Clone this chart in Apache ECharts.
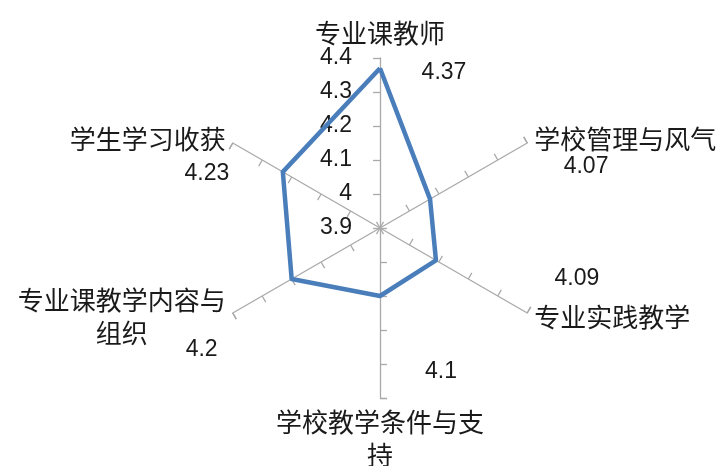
<!DOCTYPE html>
<html><head><meta charset="utf-8">
<script src="https://cdn.jsdelivr.net/npm/echarts@6/dist/echarts.min.js"></script>
<style>html,body{margin:0;padding:0;background:#fff}#c{width:719px;height:466px}</style>
</head><body><div id="c"></div>
<script>
// Data (order follows the radar's drawing order, starting at the top)
const indicatorNames = ['专业课教师', '学生学习收获', '专业课教学内容与组织', '学校教学条件与支持', '专业实践教学', '学校管理与风气'];
const scores = [4.37, 4.23, 4.2, 4.1, 4.09, 4.07];
const axisMin = 3.9;
const axisMax = 4.4;
const axisStep = 0.1;
const tickLabels = ['3.9', '4', '4.1', '4.2', '4.3', '4.4'];

// Layout / style (not data)
const CENTER = [380, 228];
const RADIUS = 170;
const valueLabelOffsets = [[64, 4], [-76, 2], [-90, 71], [61, 76], [141, 18], [156, -32]];
const NUM_FONT = 'Liberation Sans, Noto Sans CJK SC, sans-serif';
const CJK_FONT = 'Noto Sans CJK SC, sans-serif';
const TEXT_COLOR = '#1a1a1a';

const chart = echarts.init(document.getElementById('c'), null, { renderer: 'canvas' });
chart.setOption({
  animation: false,
  backgroundColor: '#fff',
  radar: {
    center: CENTER,
    radius: RADIUS,
    startAngle: 90,
    splitNumber: Math.round((axisMax - axisMin) / axisStep),
    indicator: indicatorNames.map((n, i) => {
      const o = { name: n, min: axisMin, max: axisMax };
      if (i === 0) o.axisLabel = { show: true };
      return o;
    }),
    nameGap: 8,
    axisName: {
      color: TEXT_COLOR,
      fontFamily: CJK_FONT,
      fontSize: 26,
      formatter: (name) => (name.match(/.{1,8}/g) || [name]).map(s => '{n|' + s + '}').join('\n'),
      rich: { n: { fontSize: 26, fontFamily: CJK_FONT, color: TEXT_COLOR, align: 'center', lineHeight: 33 } }
    },
    axisLine: { show: true, lineStyle: { color: '#a9a9a9', width: 1.3 } },
    axisTick: { show: true, length: 7, lineStyle: { color: '#a9a9a9', width: 1.3 } },
    axisLabel: {
      show: false, margin: 28, fontSize: 23, color: TEXT_COLOR, fontFamily: NUM_FONT,
      formatter: (v) => tickLabels[Math.round((v - axisMin) / axisStep)] ?? String(v)
    },
    splitLine: { show: false },
    splitArea: { show: false }
  },
  polar: { center: CENTER, radius: RADIUS },
  angleAxis: { type: 'category', data: indicatorNames, startAngle: 90, clockwise: false, boundaryGap: false, show: false },
  radiusAxis: { min: axisMin, max: axisMax, show: false },
  series: [
    {
      type: 'radar', symbol: 'none', silent: true,
      lineStyle: { color: '#4a7ebb', width: 4.5 },
      data: [{ value: scores }]
    },
    {
      type: 'scatter', coordinateSystem: 'polar', symbolSize: 0, silent: true,
      itemStyle: { opacity: 1 },
      data: scores.map((v, i) => ({ value: [v, i], label: { offset: valueLabelOffsets[i] } })),
      label: {
        show: true, position: 'inside', color: TEXT_COLOR, opacity: 1, fontSize: 23, fontFamily: NUM_FONT,
        formatter: (p) => String(p.value[0])
      }
    }
  ]
});
</script></body></html>
